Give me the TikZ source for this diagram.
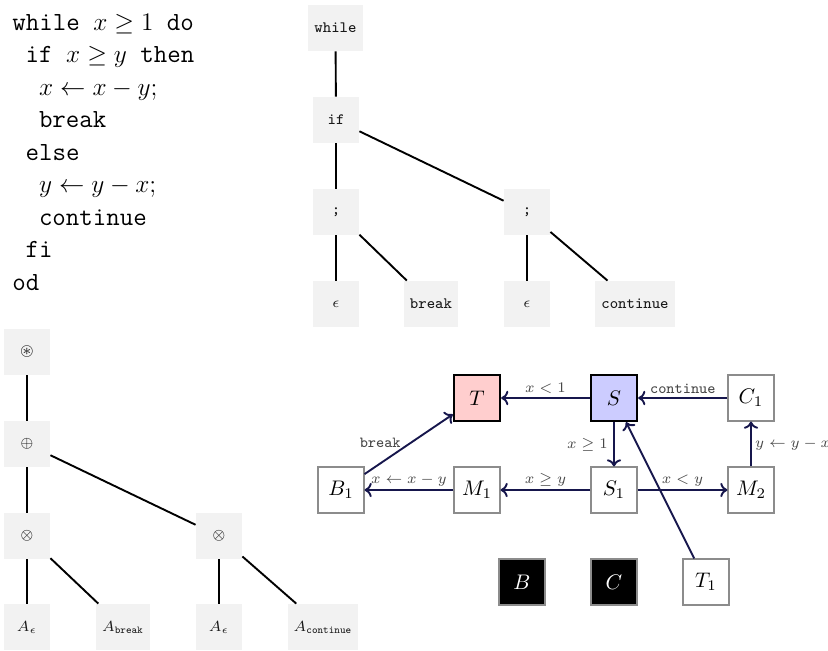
\documentclass[tikz,border=0pt]{standalone}
\usepackage{amssymb}
\usetikzlibrary{arrows.meta}

\definecolor{edgenavy}{RGB}{22,22,76}
\definecolor{startfill}{RGB}{204,204,255}
\definecolor{stopfill}{RGB}{255,206,206}
\definecolor{treefill}{RGB}{242,242,242}

\begin{document}
\begin{tikzpicture}[x=0.4739pt, y=-0.4739pt,
  codeline/.style={anchor=base west, inner sep=0pt, font=\fontsize{12.4}{15}\selectfont\ttfamily},
  treenode/.style={fill=treefill, minimum width=21.8pt, minimum height=21.8pt,
    inner sep=2.9pt, text=black!90, font=\fontsize{7.5}{9}\selectfont},
  treeedge/.style={line width=0.9pt, black},
  cfgnode/.style={draw=black!45, line width=0.5pt, fill=white, minimum size=21.8pt,
    inner sep=2pt, font=\fontsize{10}{12}\selectfont},
  startnode/.style={cfgnode, draw=black, line width=1.1pt, fill=startfill},
  stopnode/.style={cfgnode, draw=black, line width=1.1pt, fill=stopfill},
  darknode/.style={cfgnode, fill=black, text=white},
  flow/.style={draw=edgenavy, line width=0.9pt, -{To[length=3.4pt,width=6.8pt]}},
  elabel/.style={inner sep=1.5pt, text=black!72, font=\fontsize{7.3}{8.8}\selectfont},
]
\useasboundingbox (0,0) rectangle (828,650);

% ---- source program ----
\node[codeline] (code1) at (12,30)    {while $x \geq 1$ do};
\node[codeline] (code2) at (25.3,62.5)  {if $x \geq y$ then};
\node[codeline] (code3) at (38.6,95)  {$x \leftarrow x - y;$};
\node[codeline] (code4) at (38.6,127.5) {break};
\node[codeline] (code5) at (25.3,160) {else};
\node[codeline] (code6) at (38.6,192.5) {$y \leftarrow y - x;$};
\node[codeline] (code7) at (38.6,225) {continue};
\node[codeline] (code8) at (25.3,257.5) {fi};
\node[codeline] (code9) at (12,290)   {od};

% ---- syntax tree ----
\node[treenode] (tWhile) at (335.5,28) {\texttt{while}};
\node[treenode] (tIf)    at (336,120)  {\texttt{if}};
\node[treenode] (tSeqA)  at (336,212)  {\texttt{;}};
\node[treenode] (tSeqB)  at (527,212)  {\texttt{;}};
\node[treenode] (tEpsA)  at (336,304)  {$\epsilon$};
\node[treenode] (tBrk)   at (431,304)  {\texttt{break}};
\node[treenode] (tEpsB)  at (527,304)  {$\epsilon$};
\node[treenode] (tCont)  at (635,304)  {\texttt{continue}};

\draw[treeedge] (tWhile) -- (tIf);
\draw[treeedge] (tIf) -- (tSeqA);
\draw[treeedge] (tIf) -- (tSeqB);
\draw[treeedge] (tSeqA) -- (tEpsA);
\draw[treeedge] (tSeqA) -- (tBrk);
\draw[treeedge] (tSeqB) -- (tEpsB);
\draw[treeedge] (tSeqB) -- (tCont);

% ---- automaton expression tree ----
\node[treenode] (aStar)  at (27,352)  {$\circledast$};
\node[treenode] (aPlus)  at (27,444)  {$\oplus$};
\node[treenode] (aTimA)  at (27,536)  {$\otimes$};
\node[treenode] (aTimB)  at (219,536) {$\otimes$};
\node[treenode] (aEpsA)  at (27,627)  {$A_\epsilon$};
\node[treenode] (aBrk)   at (123,627) {$A_{\mathtt{break}}$};
\node[treenode] (aEpsB)  at (219,627) {$A_\epsilon$};
\node[treenode] (aCont)  at (323,627) {$A_{\mathtt{continue}}$};

\draw[treeedge] (aStar) -- (aPlus);
\draw[treeedge] (aPlus) -- (aTimA);
\draw[treeedge] (aPlus) -- (aTimB);
\draw[treeedge] (aTimA) -- (aEpsA);
\draw[treeedge] (aTimA) -- (aBrk);
\draw[treeedge] (aTimB) -- (aEpsB);
\draw[treeedge] (aTimB) -- (aCont);

% ---- control-flow automaton ----
\node[stopnode]  (T)  at (477,398) {$T$};
\node[startnode] (S)  at (614,398) {$S$};
\node[cfgnode]   (C1) at (751,398) {$C_1$};
\node[cfgnode]   (B1) at (341,490) {$B_1$};
\node[cfgnode]   (M1) at (477,490) {$M_1$};
\node[cfgnode]   (S1) at (614,490) {$S_1$};
\node[cfgnode]   (M2) at (751,490) {$M_2$};
\node[darknode]  (B)  at (522,582) {$B$};
\node[darknode]  (C)  at (614,582) {$C$};
\node[cfgnode]   (T1) at (706,582) {$T_1$};

\draw[flow] (S) -- node[elabel, above] {$x<1$} (T);
\draw[flow] (C1) -- node[elabel, above] {\texttt{continue}} (S);
\draw[flow] (S) -- node[elabel, left=1pt] {$x\geq 1$} (S1);
\draw[flow] (S1) -- node[elabel, above] {$x\geq y$} (M1);
\draw[flow] (M1) -- node[elabel, above] {$x\leftarrow x-y$} (B1);
\draw[flow] (S1) -- node[elabel, above] {$x<y$} (M2);
\draw[flow] (M2) -- node[elabel, right] {$y\leftarrow y-x$} (C1);
\draw[flow] (B1) -- node[elabel, pos=0.42, anchor=south east, inner sep=0pt] {\texttt{break}} (T);
\draw[flow] (T1) -- (S);
\end{tikzpicture}
\end{document}
